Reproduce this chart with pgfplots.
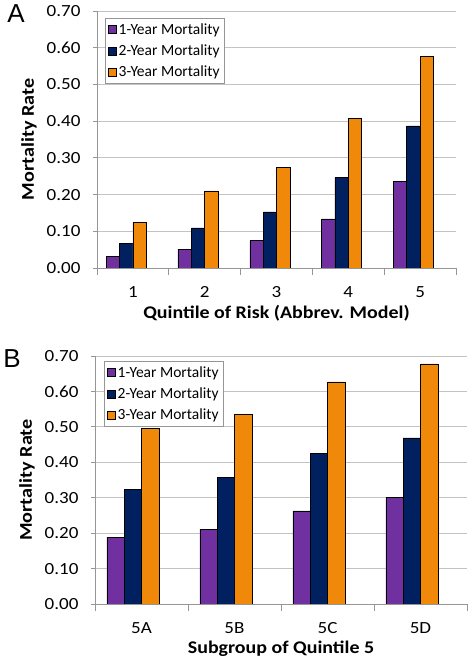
\documentclass[border=0pt]{standalone}
\usepackage{fontspec}
\setmainfont{Carlito}
\newfontfamily\letterfont{Liberation Sans}
\newfontfamily\widefont[FakeStretch=1.12]{Carlito}
\usepackage{pgfplots}
\pgfplotsset{compat=1.18}
\definecolor{c1}{RGB}{112,48,160}
\definecolor{c2}{RGB}{0,32,96}
\definecolor{c3}{RGB}{240,137,10}
\definecolor{gridc}{RGB}{195,195,195}
\definecolor{axc}{RGB}{150,150,150}
\pgfplotsset{
  mystyle/.style={
    scale only axis, ybar,
    ymin=0, ymax=0.7,
    ytick={0,0.1,0.2,0.3,0.4,0.5,0.6,0.7},
    yticklabel={\pgfmathprintnumber[fixed,fixed zerofill,precision=2]{\tick}},
    /pgf/number format/assume math mode=true,
    ymajorgrids, grid style={gridc, line width=0.8pt},
    axis x line*=bottom, axis y line*=left,
    axis line style={axc, line width=0.8pt},
    tick style={axc, line width=0.8pt},
    tick align=outside,
    major tick length=4pt, minor tick length=7pt,
    major x tick style={draw=none},
    xtick={0,1,2,3,4},
    ticklabel style={font=\widefont\fontsize{17}{17}\selectfont},
    xticklabel style={anchor=center, yshift=-20pt},
    yticklabel style={anchor=east, xshift=-9pt},
    every axis y label/.style={at={(axis description cs:0,0.5)}, xshift=-68pt, rotate=90, anchor=center, font=\widefont\fontsize{18}{18}\selectfont\bfseries},
    every axis x label/.style={at={(axis description cs:0.5,0)}, yshift=-45pt, anchor=center, font=\widefont\fontsize{17.8}{17.8}\selectfont\bfseries},
    bar width=0.186,
    every axis plot/.append style={draw=black, line width=0.5pt},
    legend cell align=left,
    legend image code/.code={\draw[#1, line width=0.4pt] (0pt,-4pt) rectangle (8pt,4pt);},
    legend style={anchor=north west, draw=axc, line width=0.8pt, font=\fontsize{15.5}{17}\selectfont, row sep=5pt, inner sep=3pt},
  }
}
\begin{document}
\begin{tikzpicture}
\useasboundingbox (0pt,0pt) rectangle (468pt,664pt);
\begin{axis}[mystyle,
  at={(97pt,396pt)}, anchor=south west,
  width=359pt, height=257pt,
  xmin=-0.5, xmax=4.5,
  minor xtick={-0.5,0.5,1.5,2.5,3.5,4.5},
  xticklabels={1,2,3,4,5},
  xlabel={Quintile of Risk (Abbrev. Model)},
  ylabel={Mortality Rate},
  legend style={at={(0.022,0.973)}},
]
\addplot[fill=c1, bar shift=-0.279] coordinates {(0,0.032) (1,0.051) (2,0.075) (3,0.134) (4,0.236)};
\addplot[fill=c2, bar shift=-0.093] coordinates {(0,0.067) (1,0.109) (2,0.153) (3,0.247) (4,0.387)};
\addplot[fill=c3, bar shift=0.093] coordinates {(0,0.124) (1,0.210) (2,0.274) (3,0.407) (4,0.576)};
\legend{1-Year Mortality,2-Year Mortality,3-Year Mortality}
\end{axis}
\begin{axis}[mystyle,
  at={(95pt,60pt)}, anchor=south west,
  width=372pt, height=248pt,
  xmin=-0.5, xmax=3.5,
  xtick={0,1,2,3},
  minor xtick={-0.5,0.5,1.5,2.5,3.5},
  xticklabels={5A,5B,5C,5D},
  xlabel={Subgroup of Quintile 5},
  ylabel={Mortality Rate},
  legend style={at={(0.024,0.98)}},
]
\addplot[fill=c1, bar shift=-0.279] coordinates {(0,0.189) (1,0.211) (2,0.263) (3,0.300)};
\addplot[fill=c2, bar shift=-0.093] coordinates {(0,0.323) (1,0.358) (2,0.425) (3,0.469)};
\addplot[fill=c3, bar shift=0.093] coordinates {(0,0.496) (1,0.535) (2,0.627) (3,0.678)};
\legend{1-Year Mortality,2-Year Mortality,3-Year Mortality}
\end{axis}
\node[font=\letterfont\fontsize{26}{26}\selectfont, anchor=center] at (16pt,650pt) {A};
\node[font=\letterfont\fontsize{26}{26}\selectfont, anchor=center] at (12pt,305pt) {B};
\end{tikzpicture}
\end{document}
